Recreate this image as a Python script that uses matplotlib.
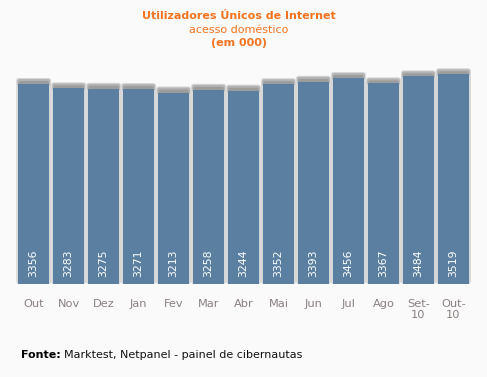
import matplotlib
matplotlib.use("Agg")
import matplotlib.pyplot as plt
from matplotlib.patches import FancyBboxPatch

months = ["Out", "Nov", "Dez", "Jan", "Fev", "Mar", "Abr", "Mai", "Jun", "Jul", "Ago", "Set-\n10", "Out-\n10"]
values = [3356, 3283, 3275, 3271, 3213, 3258, 3244, 3352, 3393, 3456, 3367, 3484, 3519]

W, H = 487, 377
fig = plt.figure(figsize=(W / 100, H / 100), dpi=100)
fig.patch.set_facecolor("#fafafa")

ymax = 3800
px_per_unit = 200 / 3356.0
ax_h_px = ymax * px_per_unit
left_px, right_px, bottom_px = 16.2, 470.9, 284
ax = fig.add_axes([left_px / W, 1 - bottom_px / H, (right_px - left_px) / W, ax_h_px / H])
ax.set_facecolor("#fafafa")
ax.set_xlim(-0.5, len(values) - 0.5)
ax.set_ylim(0, ymax)

bw = 0.893
upy = 1 / px_per_unit
upx = 1 / 34.7
x = list(range(len(values)))
asp = upy / upx

# shadow / bevel behind bars
for xi, v in zip(x, values):
    ax.add_patch(FancyBboxPatch((xi - bw / 2 - 1.8 * upx, 0), bw + 3.6 * upx, v + 6 * upy,
                                boxstyle="round,pad=0,rounding_size=0.07", mutation_aspect=asp,
                                facecolor="#d6d6d6", edgecolor="none", zorder=1))
    ax.add_patch(FancyBboxPatch((xi - bw / 2 - 0.8 * upx, v - 2 * upy), bw + 1.6 * upx, 7 * upy,
                                boxstyle="round,pad=0,rounding_size=0.06", mutation_aspect=asp,
                                facecolor="#b4b4b4", edgecolor="none", zorder=2))
    ax.add_patch(FancyBboxPatch((xi - bw / 2 + 0.5 * upx, v - 1 * upy), bw - 1.0 * upx, 4 * upy,
                                boxstyle="round,pad=0,rounding_size=0.04", mutation_aspect=asp,
                                facecolor="#9c9c9c", edgecolor="none", zorder=2))

ax.bar(x, values, width=bw, color="#5a7fa0", zorder=3)

for xi, v in zip(x, values):
    ax.text(xi, 7 * upy, str(v), rotation=90, ha="center", va="bottom",
            color="white", fontsize=7.8, zorder=4)

ax.set_xticks(x)
ax.set_xticklabels(months, color="#8a8080", fontsize=8.2, linespacing=1.05, va="top")
ax.tick_params(axis="x", length=0, pad=11)
ax.set_yticks([])
for s in ax.spines.values():
    s.set_visible(False)

orange = "#f5731e"
fig.text(239 / W, 1 - 16 / H, "Utilizadores Únicos de Internet", ha="center", va="center",
         color=orange, fontsize=8, fontweight="bold")
fig.text(239 / W, 1 - 30 / H, "acesso doméstico", ha="center", va="center",
         color=orange, fontsize=8)
fig.text(239 / W, 1 - 43 / H, "(em 000)", ha="center", va="center",
         color=orange, fontsize=8, fontweight="bold")

t = fig.text(21 / W, 1 - 355 / H, "Fonte:", ha="left", va="center", color="black",
             fontsize=8, fontweight="bold")
fig.canvas.draw()
bb = t.get_window_extent()
fig.text((bb.x1 + 3) / W, 1 - 355 / H, "Marktest, Netpanel - painel de cibernautas", ha="left",
         va="center", color="#111111", fontsize=8)

fig.savefig("out.png", dpi=100, facecolor=fig.get_facecolor())
